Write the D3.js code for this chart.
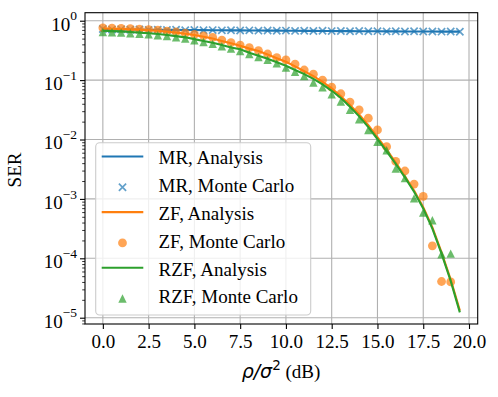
<!DOCTYPE html>
<html>
<head>
<meta charset="utf-8">
<script src="https://cdn.jsdelivr.net/npm/d3@7"></script>
<style>
  body { margin: 0; background: #fff; }
  svg { display: block; }
  text { font-family: "Liberation Serif", "Times New Roman", serif; }
</style>
</head>
<body>
<div id="chart"></div>
<script>
// SNR in dB (x axis)
const snrDb = [0, 0.5, 1, 1.5, 2, 2.5, 3, 3.5, 4, 4.5, 5, 5.5, 6, 6.5, 7, 7.5, 8, 8.5, 9, 9.5,
    10, 10.5, 11, 11.5, 12, 12.5, 13, 13.5, 14, 14.5, 15, 15.5, 16, 16.5, 17, 17.5, 18, 18.5, 19, 19.5];

// SER (null = no point on the log axis)
const mrAnalysis = [0.716, 0.714, 0.712, 0.710, 0.708, 0.706, 0.704, 0.702, 0.700, 0.698,
    0.696, 0.694, 0.692, 0.690, 0.689, 0.687, 0.685, 0.683, 0.682, 0.680,
    0.678, 0.677, 0.675, 0.674, 0.672, 0.671, 0.669, 0.668, 0.666, 0.665,
    0.664, 0.662, 0.661, 0.660, 0.659, 0.658, 0.657, 0.656, 0.655, 0.654];
const mrMonteCarlo = [0.724, 0.709, 0.716, 0.705, 0.711, 0.700, 0.707, 0.698, 0.703, 0.694,
    0.699, 0.690, 0.695, 0.688, 0.691, 0.684, 0.688, 0.681, 0.685, 0.678,
    0.682, 0.674, 0.679, 0.672, 0.676, 0.669, 0.673, 0.666, 0.670, 0.664,
    0.668, 0.661, 0.665, 0.659, 0.663, 0.657, 0.660, 0.655, 0.658, 0.652];
const zfAnalysis = [0.741, 0.733, 0.724, 0.716, 0.708, 0.692, 0.676, 0.653, 0.631, 0.603,
    0.575, 0.537, 0.501, 0.457, 0.417, 0.380, 0.339, 0.309, 0.269, 0.234,
    0.204, 0.170, 0.141, 0.117, 0.0933, 0.0724, 0.0537, 0.0380, 0.0263, 0.0174,
    0.0110, 0.00676, 0.00407, 0.00240, 0.00138, 0.000724, 0.000331, 0.000126, 0.0000437, 0.0000132];
const zfMonteCarlo = [0.759, 0.750, 0.741, 0.733, 0.724, 0.708, 0.692, 0.668, 0.646, 0.617,
    0.589, 0.556, 0.525, 0.473, 0.427, 0.389, 0.351, 0.313, 0.275, 0.240,
    0.219, 0.186, 0.148, 0.126, 0.100, 0.0759, 0.0589, 0.0427, 0.0316, 0.0229,
    0.0145, 0.00759, 0.00427, 0.00295, 0.00178, 0.00110, 0.000162, 0.0000407, 0.0000400, null];
const rzfAnalysis = [0.676, 0.668, 0.661, 0.646, 0.631, 0.617, 0.596, 0.575, 0.550, 0.525,
    0.490, 0.457, 0.427, 0.389, 0.355, 0.331, 0.288, 0.257, 0.229, 0.200,
    0.174, 0.148, 0.126, 0.105, 0.0851, 0.0661, 0.0501, 0.0355, 0.0245, 0.0162,
    0.0102, 0.00631, 0.00389, 0.00229, 0.00132, 0.000692, 0.000316, 0.000120, 0.0000417, 0.0000123];
const rzfMonteCarlo = [0.646, 0.638, 0.631, 0.617, 0.603, 0.589, 0.569, 0.550, 0.525, 0.501,
    0.468, 0.437, 0.407, 0.372, 0.339, 0.309, 0.275, 0.245, 0.219, 0.191,
    0.162, 0.138, 0.117, 0.0912, 0.0759, 0.0575, 0.0437, 0.0316, 0.0219, 0.0145,
    0.00912, 0.00661, 0.00324, 0.00224, 0.00102, 0.000589, 0.000437, 0.000117, 0.000120, null];

const xTicks = [0, 2.5, 5, 7.5, 10, 12.5, 15, 17.5, 20];
const yExponents = [0, -1, -2, -3, -4, -5];
const legendLabels = ['MR, Analysis', 'MR, Monte Carlo', 'ZF, Analysis', 'ZF, Monte Carlo', 'RZF, Analysis', 'RZF, Monte Carlo'];

const blue = '#1f77b4', orange = '#ff7f0e', green = '#2ca02c';

const series = [
    {type: 'line', color: blue, values: mrAnalysis},
    {type: 'x', color: blue, values: mrMonteCarlo},
    {type: 'line', color: orange, values: zfAnalysis},
    {type: 'o', color: orange, values: zfMonteCarlo},
    {type: 'line', color: green, values: rzfAnalysis},
    {type: '^', color: green, values: rzfMonteCarlo},
];

const W = 498, H = 397;
const pLeft = 85, pRight = 477.7, pTop = 12.7, pBottom = 324;

const x = d3.scaleLinear().domain([-0.975, 20.475]).range([pLeft, pRight]);
const y = d3.scaleLog().domain([Math.pow(10, -5.106), Math.pow(10, 0.135)]).range([pBottom, pTop]);

const svg = d3.select('#chart').append('svg').attr('width', W).attr('height', H);

svg.append('defs').append('clipPath').attr('id', 'plot')
    .append('rect').attr('x', pLeft).attr('y', pTop).attr('width', pRight - pLeft).attr('height', pBottom - pTop);

// grid
const grid = svg.append('g').attr('stroke', '#b0b0b0').attr('stroke-width', 1.1);
grid.selectAll('.gx').data(xTicks).enter().append('line')
    .attr('x1', (d) => x(d)).attr('x2', (d) => x(d)).attr('y1', pTop).attr('y2', pBottom);
grid.selectAll('.gy').data(yExponents).enter().append('line')
    .attr('x1', pLeft).attr('x2', pRight)
    .attr('y1', (d) => y(Math.pow(10, d))).attr('y2', (d) => y(Math.pow(10, d)));

// data
const plot = svg.append('g').attr('clip-path', 'url(#plot)');
const line = d3.line()
    .defined((d) => d != null)
    .x((d, i) => x(snrDb[i]))
    .y((d) => y(d));

const markerPath = {
    'x': 'M-3.6,-3.6L3.6,3.6M-3.6,3.6L3.6,-3.6',
    '^': 'M0,-4.2L4.2,4.2L-4.2,4.2Z',
};

function drawMarker(sel, type, color) {
    if (type === 'o') {
        sel.append('circle').attr('r', 4.4).attr('fill', color).attr('fill-opacity', 0.7);
    } else if (type === 'x') {
        sel.append('path').attr('d', markerPath.x).attr('stroke', color)
            .attr('stroke-width', 1.7).attr('stroke-opacity', 0.7).attr('fill', 'none');
    } else {
        sel.append('path').attr('d', markerPath['^']).attr('fill', color).attr('fill-opacity', 0.7);
    }
}

series.forEach((s) => {
    if (s.type === 'line') {
        plot.append('path').datum(s.values)
            .attr('d', line)
            .attr('fill', 'none')
            .attr('stroke', s.color)
            .attr('stroke-width', 2.1);
    } else {
        const pts = s.values.map((v, i) => ({x: snrDb[i], v: v})).filter((d) => d.v != null);
        plot.append('g').selectAll('g').data(pts).enter().append('g')
            .attr('transform', (d) => `translate(${x(d.x)},${y(d.v)})`)
            .each(function () { drawMarker(d3.select(this), s.type, s.color); });
    }
});

// axes
const xAxis = svg.append('g').attr('transform', `translate(0,${pBottom})`)
    .call(d3.axisBottom(x).tickValues(xTicks).tickSize(5).tickPadding(6).tickFormat(d3.format('.1f')));
xAxis.select('.domain').remove();
xAxis.selectAll('line').attr('stroke-width', 1.1);
xAxis.selectAll('text').attr('font-size', 19).attr('font-family', 'Liberation Serif').attr('fill', '#000');

const minor = [];
for (let e = -6; e <= 0; e++) {
    for (let m = 2; m <= 9; m++) {
        const v = m * Math.pow(10, e);
        if (v >= y.domain()[0] && v <= y.domain()[1]) minor.push(v);
    }
}
const yMinor = svg.append('g').attr('transform', `translate(${pLeft},0)`)
    .call(d3.axisLeft(y).tickValues(minor).tickSize(2.8).tickFormat(''));
yMinor.select('.domain').remove();
yMinor.selectAll('line').attr('stroke-width', 0.8);

const yAxis = svg.append('g').attr('transform', `translate(${pLeft},0)`)
    .call(d3.axisLeft(y).tickValues(yExponents.map((e) => Math.pow(10, e))).tickSize(5).tickPadding(3));
yAxis.select('.domain').remove();
yAxis.selectAll('line').attr('stroke-width', 1.1);
yAxis.selectAll('text')
    .attr('font-size', 19).attr('font-family', 'Liberation Serif').attr('fill', '#000')
    .attr('dy', 9.3)
    .text('')
    .each(function (d) {
        const t = d3.select(this);
        const e = Math.round(Math.log10(d));
        t.append('tspan').text('10');
        t.append('tspan').attr('font-size', 13.5).attr('dy', -10.2)
            .text(e < 0 ? '\u2212' + (-e) : String(e));
    });

// frame
svg.append('rect').attr('x', pLeft).attr('y', pTop).attr('width', pRight - pLeft).attr('height', pBottom - pTop)
    .attr('fill', 'none').attr('stroke', '#000').attr('stroke-width', 1.1);

// axis labels
svg.append('text')
    .attr('transform', 'translate(21,170) rotate(-90)')
    .attr('text-anchor', 'middle')
    .attr('font-size', 19)
    .text('SER');

const xl = svg.append('text').attr('x', 281).attr('y', 378.3).attr('text-anchor', 'middle').attr('font-size', 19);
xl.append('tspan').attr('font-family', 'DejaVu Sans').attr('font-style', 'italic').text('\u03c1/\u03c3');
xl.append('tspan').attr('font-family', 'DejaVu Sans').attr('font-size', 13.5).attr('dy', -8).text('2');
xl.append('tspan').attr('dy', 8).text('\u00a0(dB)');

// legend
const lg = svg.append('g');
lg.append('rect').attr('x', 95.7).attr('y', 142.7).attr('width', 215).attr('height', 172.3)
    .attr('rx', 4).attr('fill', '#fff').attr('fill-opacity', 0.8)
    .attr('stroke', '#cccccc').attr('stroke-width', 1.1);

const rows = lg.selectAll('.row').data(series).enter().append('g')
    .attr('transform', (d, i) => `translate(0,${157.5 + i * 27.8})`);
rows.each(function (s) {
    const g = d3.select(this);
    if (s.type === 'line') {
        g.append('line').attr('x1', 101.7).attr('x2', 143.3).attr('y1', -1).attr('y2', -1)
            .attr('stroke', s.color).attr('stroke-width', 2.1);
    } else {
        const m = g.append('g').attr('transform', 'translate(122.5,2)');
        drawMarker(m, s.type, s.color);
    }
});
rows.append('text').attr('x', 158.5).attr('y', 6.8).attr('font-size', 19)
    .text((d, i) => legendLabels[i]);
</script>
</body>
</html>
